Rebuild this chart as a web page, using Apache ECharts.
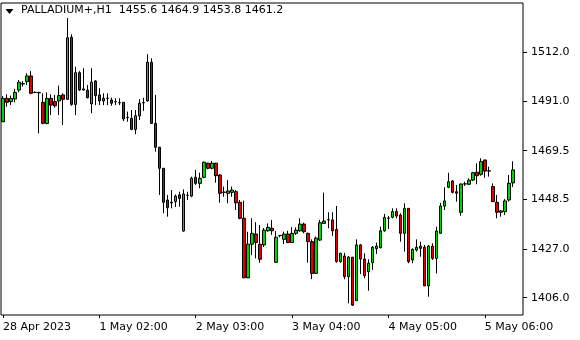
<!DOCTYPE html>
<html>
<head>
<meta charset="utf-8">
<script src="https://cdn.jsdelivr.net/npm/echarts@6/dist/echarts.min.js"></script>
<style>html,body{margin:0;padding:0;background:#fff}#c{width:580px;height:340px}</style>
</head>
<body>
<div id="c"></div>
<script>
const symbolName = 'PALLADIUM+,H1';
const xTickIndex = [0, 24, 48, 72, 96, 120];
const xTickLabels = ['28 Apr 2023', '1 May 02:00', '2 May 03:00', '3 May 04:00', '4 May 05:00', '5 May 06:00'];
const yTicks = [1406.0, 1427.0, 1448.5, 1469.5, 1491.0, 1512.0];
const emptySlots = 2;

const opens = [1482.0,1492.1,1490.7,1491.8,1495.7,1498.3,1499.3,1501.8,1494.7,1494.7,1490.4,1481.3,1492.1,1490.7,1491.0,1493.6,1491.7,1518.5,1489.5,1503.2,1495.7,1495.7,1489.7,1499.6,1493.6,1491.0,1492.1,1491.4,1490.7,1490.2,1490.4,1483.8,1483.5,1478.7,1484.5,1490.2,1491.0,1507.7,1481.3,1471.0,1461.9,1448.2,1446.9,1447.5,1450.4,1434.8,1450.2,1449.9,1458.0,1455.4,1458.0,1464.1,1461.9,1464.1,1459.0,1451.5,1451.1,1451.5,1451.8,1447.2,1440.3,1414.6,1429.1,1433.5,1429.1,1428.8,1434.9,1436.0,1421.3,1432.8,1431.2,1433.5,1429.8,1433.8,1434.9,1437.8,1433.8,1430.2,1416.5,1430.9,1438.1,1439.6,1439.6,1435.5,1421.6,1424.0,1415.1,1423.5,1404.7,1428.8,1422.7,1417.2,1421.1,1427.2,1427.6,1434.9,1440.3,1440.7,1443.2,1441.7,1433.8,1444.6,1422.3,1426.6,1428.3,1427.8,1411.1,1428.3,1423.0,1433.8,1445.6,1453.7,1456.4,1451.8,1442.9,1455.1,1455.0,1456.8,1460.2,1459.3,1465.5,1460.7,1454.0,1447.2,1442.9,1443.2,1448.2,1455.6];
const highs = [1493.1,1493.9,1493.3,1496.2,1500.0,1499.6,1502.9,1503.9,1495.1,1494.9,1494.3,1494.7,1493.9,1493.6,1497.6,1494.3,1526.8,1519.8,1505.8,1503.9,1505.1,1497.9,1505.1,1500.0,1496.5,1494.3,1494.3,1492.4,1492.1,1492.1,1490.5,1486.4,1487.1,1487.1,1491.7,1492.4,1511.2,1509.4,1493.6,1471.1,1462.0,1450.4,1452.5,1450.6,1451.8,1452.8,1451.8,1458.3,1461.2,1460.0,1464.8,1464.3,1465.1,1464.3,1459.4,1454.0,1456.8,1454.0,1452.5,1448.2,1447.9,1434.5,1440.3,1438.6,1437.4,1436.1,1438.1,1439.6,1434.8,1433.1,1434.5,1434.9,1436.5,1436.4,1440.3,1438.4,1434.1,1431.2,1432.4,1439.6,1451.4,1442.9,1442.9,1445.6,1425.4,1425.4,1424.0,1423.6,1431.2,1429.2,1425.2,1422.6,1428.3,1429.8,1436.7,1442.2,1441.3,1444.6,1444.6,1442.5,1446.8,1444.7,1427.3,1431.2,1430.2,1428.8,1428.8,1429.5,1436.7,1447.0,1453.7,1460.0,1456.8,1454.7,1455.4,1456.1,1457.6,1460.4,1464.1,1466.2,1465.5,1462.6,1455.4,1450.4,1443.9,1448.6,1459.0,1464.9];
const lows = [1481.9,1488.5,1489.2,1490.4,1494.7,1497.2,1497.9,1493.9,1494.4,1477.0,1480.9,1480.9,1484.9,1488.1,1484.9,1480.6,1491.4,1488.9,1484.9,1495.3,1495.5,1492.1,1485.7,1489.2,1489.2,1489.2,1489.2,1488.9,1489.2,1489.2,1482.3,1482.0,1478.4,1476.6,1482.8,1486.7,1490.7,1481.2,1469.1,1450.4,1442.5,1441.0,1444.6,1445.2,1445.3,1434.5,1448.2,1449.4,1454.7,1453.3,1457.6,1461.5,1461.5,1455.7,1447.0,1449.6,1446.8,1449.6,1443.9,1439.9,1414.5,1414.5,1424.4,1423.0,1421.1,1427.9,1434.5,1433.1,1421.2,1432.1,1429.2,1429.6,1429.8,1433.1,1434.5,1433.8,1421.1,1414.0,1416.4,1430.5,1438.0,1436.0,1432.7,1421.1,1421.1,1414.0,1403.6,1402.4,1404.7,1416.2,1414.4,1409.0,1418.0,1424.9,1427.3,1434.5,1435.7,1440.3,1440.3,1430.2,1425.9,1420.9,1420.9,1425.9,1423.7,1411.1,1406.4,1422.3,1416.5,1433.8,1443.9,1453.3,1451.1,1447.5,1441.4,1454.3,1454.7,1456.4,1455.0,1458.7,1457.8,1458.3,1447.5,1440.3,1441.0,1441.7,1447.5,1453.8];
const closes = [1492.1,1490.4,1492.1,1494.7,1499.1,1498.5,1501.8,1494.3,1494.6,1494.5,1481.3,1492.1,1489.2,1488.9,1493.3,1491.7,1518.3,1489.5,1503.2,1495.7,1496.2,1492.4,1499.1,1493.3,1491.0,1492.1,1492.2,1490.0,1490.6,1490.3,1483.2,1483.9,1478.7,1484.6,1490.0,1490.3,1507.7,1481.3,1471.0,1461.9,1447.2,1444.9,1447.2,1449.9,1448.9,1450.8,1450.3,1457.6,1455.4,1457.6,1464.5,1461.9,1464.1,1458.7,1451.1,1451.6,1452.1,1452.5,1447.0,1440.3,1414.6,1429.1,1433.8,1429.9,1422.6,1435.2,1436.4,1434.9,1432.1,1432.9,1433.5,1429.8,1433.8,1435.2,1437.8,1434.5,1430.2,1416.5,1431.7,1438.4,1439.1,1439.7,1434.9,1421.6,1425.2,1415.1,1423.5,1402.8,1428.8,1422.7,1415.5,1420.9,1427.8,1428.3,1434.9,1440.7,1440.4,1443.2,1441.3,1433.8,1444.6,1421.6,1426.9,1427.8,1427.3,1411.1,1428.3,1423.0,1434.8,1445.6,1447.8,1456.1,1451.5,1451.1,1455.1,1455.2,1456.8,1460.0,1458.7,1464.8,1460.7,1460.8,1447.5,1442.9,1443.5,1447.8,1455.4,1461.2];

const n = opens.length;
const categories = [];
for (let i = 0; i < n + emptySlots; i++) categories.push(String(i));
const candleData = opens.map((o, i) => [o, closes[i], lows[i], highs[i]]);
const last = n - 1;
const headerText = symbolName + '  ' + [opens[last], highs[last], lows[last], closes[last]].map(v => v.toFixed(1)).join(' ');

const FONT = 'DejaVu Sans';
const chart = echarts.init(document.getElementById('c'), null, {renderer: 'canvas'});
chart.setOption({
  animation: false,
  backgroundColor: '#ffffff',
  grid: {left: 1, top: 3, width: 522, height: 312, show: true, borderColor: '#000', borderWidth: 1, backgroundColor: 'transparent'},
  xAxis: {
    type: 'category', data: categories, boundaryGap: true,
    axisLine: {show: false},
    axisTick: {show: true, length: 3, lineStyle: {color: '#000'}, interval: (i) => xTickIndex.indexOf(i) >= 0, alignWithLabel: true},
    axisLabel: {
      interval: (i) => xTickIndex.indexOf(i) >= 0,
      formatter: (v, i) => { const j = xTickIndex.indexOf(i); return j >= 0 ? xTickLabels[j] : ''; },
      align: 'left', margin: 7, color: '#000', fontFamily: FONT, fontSize: 11
    },
    splitLine: {show: false}
  },
  yAxis: {
    type: 'value', position: 'right', scale: true,
    min: 1398.53, max: 1533.3,
    axisLine: {show: false},
    axisTick: {show: true, length: 4, inside: false, lineStyle: {color: '#000'}, customValues: yTicks},
    axisLabel: {customValues: yTicks, formatter: (v) => v.toFixed(1), margin: 8, color: '#000', fontFamily: FONT, fontSize: 11},
    splitLine: {show: false}
  },
  graphic: [
    {type: 'polygon', shape: {points: [[5.5, 9], [13.5, 9], [9.5, 14]]}, style: {fill: '#000'}},
    {type: 'text', left: 21, top: 5, style: {text: headerText, fill: '#000', font: '11px "' + FONT + '"'}}
  ],
  series: [{
    type: 'candlestick',
    data: candleData,
    barWidth: 3,
    itemStyle: {color: '#00d400', color0: '#e00000', borderColor: '#000', borderColor0: '#000', borderWidth: 1},
    markLine: {
      silent: true, symbol: 'none',
      lineStyle: {opacity: 0},
      data: [{yAxis: closes[last]}],
      label: {
        show: true, position: 'end', distance: 2,
        formatter: () => closes[last].toFixed(1),
        color: '#fff', backgroundColor: '#000', padding: [2, 7, 1, 7],
        fontFamily: FONT, fontSize: 11
      }
    }
  }]
});
</script>
</body>
</html>
